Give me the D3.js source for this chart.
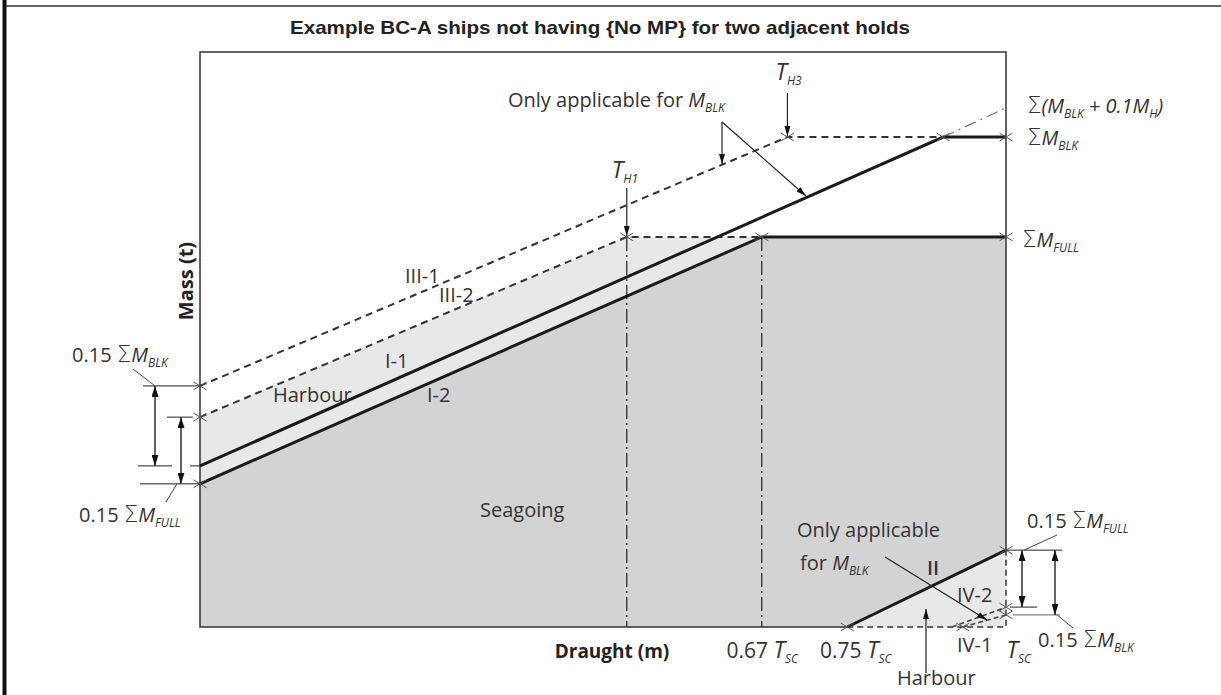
<!DOCTYPE html>
<html>
<head>
<meta charset="utf-8">
<script src="https://cdn.jsdelivr.net/npm/d3@7"></script>
<style>
  html, body { margin: 0; padding: 0; background: #fff; }
  svg { display: block; }
</style>
</head>
<body>
<svg id="chart" width="1221" height="695"></svg>
<script>
// ---- Schematic values: draught as a fraction of T_SC, mass relative to ΣM_FULL ----
const draughtTicks = [0.67, 0.75, 1];
const draughtTickPrefix = ["0.67 ", "0.75 ", ""];

const lineI1   = [[0, 0.413], [0.901, 1.256], [1, 1.256]];   // seagoing, M_BLK
const lineI2   = [[0, 0.367], [0.67, 1.0], [1, 1.0]];        // seagoing, M_FULL
const lineIII1 = [[0, 0.618], [0.694, 1.256], [0.901, 1.256]]; // harbour, M_BLK
const lineIII2 = [[0, 0.538], [0.509, 1.0], [0.67, 1.0]];    // harbour, M_FULL
const lineII   = [[0.75, 0], [1, 0.197]];
const lineIV1  = [[0.932, 0], [1, 0.031]];
const lineIV2  = [[0.915, 0], [1, 0.051]];
const lineExt  = [[0.901, 1.256], [1, 1.331]];              // Σ(M_BLK + 0.1M_H)
const harbourDraughts = [0.509, 0.694];                      // T_H1, T_H3
const massMax = 1.474;

// ---- Layout ----
const W = 1221, H = 695;
const margin = { left: 200, right: 215, top: 52, bottom: 68 };
const plotW = W - margin.left - margin.right;
const plotH = H - margin.top - margin.bottom;
const FONT = "'Open Sans', 'DejaVu Sans', sans-serif";
const TXT = "#333";
const BASE = 20, SUB = 12, SIGMA = 23;

const svg = d3.select("#chart");

// schematic draught axis: not to scale, stretched between the marked stops
const x = d3.scaleLinear()
  .domain([0, 0.67, 0.75, 1])
  .range([0, 0.697, 0.803, 1].map(f => margin.left + f * plotW));
const y = d3.scaleLinear().domain([0, massMax]).range([margin.top + plotH, margin.top]);
const line = d3.line().x(d => x(d[0])).y(d => y(d[1]));

// ---- Page frame ----
svg.append("rect").attr("x", 2.5).attr("y", 0).attr("width", 4).attr("height", H).attr("fill", "#111");
svg.append("line").attr("x1", 6).attr("x2", W).attr("y1", 6).attr("y2", 6)
  .attr("stroke", "#333").attr("stroke-width", 1.5);

// ---- Markers ----
const defs = svg.append("defs");
function marker(id, w, h) {
  defs.append("marker").attr("id", id)
    .attr("viewBox", "0 0 10 10").attr("refX", 10).attr("refY", 5)
    .attr("markerWidth", w).attr("markerHeight", h)
    .attr("markerUnits", "userSpaceOnUse").attr("preserveAspectRatio", "none")
    .attr("orient", "auto-start-reverse")
    .append("path").attr("d", "M0,0 L10,5 L0,10 Z").attr("fill", "#111");
}
marker("head", 10, 6);
marker("dim", 11, 7);

// ---- Filled regions ----
const seagoing = [lineI2[0], lineI2[1], lineI2[2], lineII[1], lineII[0], [0, 0]];
const harbourUpper = [lineIII2[0], lineIII2[1], lineIII2[2], lineI2[0]];
const harbourLower = [lineII[0], lineII[1], [1, 0]];
const area = d3.line().x(d => x(d[0])).y(d => y(d[1])).curve(d3.curveLinearClosed);
svg.append("path").attr("d", area(seagoing)).attr("fill", "#d3d3d3");
svg.append("path").attr("d", area(harbourUpper)).attr("fill", "#e8e8e8");
svg.append("path").attr("d", area(harbourLower)).attr("fill", "#e8e8e8");

// ---- Plot frame (solid, except the dashed harbour corner) ----
const frame = svg.append("g").attr("fill", "none").attr("stroke", "#333").attr("stroke-width", 1.5);
frame.append("path").attr("d", line([[lineII[0][0], 0], [0, 0], [0, massMax], [1, massMax], [1, lineII[1][1]]]));
frame.append("path").attr("d", line([[lineII[0][0], 0], [1, 0], [1, lineII[1][1]]]))
  .attr("stroke-dasharray", "6,4");

// ---- Dash-dot verticals at T_H1 and 0.67 T_SC ----
[harbourDraughts[0], 0.67].forEach(v => {
  svg.append("line").attr("x1", x(v)).attr("x2", x(v)).attr("y1", y(1)).attr("y2", y(0))
    .attr("stroke", "#222").attr("stroke-width", 1.2).attr("stroke-dasharray", "14,4,2,4");
});

// ---- Curves ----
svg.append("path").attr("d", line(lineExt)).attr("fill", "none")
  .attr("stroke", "#777").attr("stroke-width", 1.2).attr("stroke-dasharray", "12,5,2,5");
[lineIII1, lineIII2].forEach(s => svg.append("path").attr("d", line(s)).attr("fill", "none")
  .attr("stroke", "#333").attr("stroke-width", 2).attr("stroke-dasharray", "7,5"));
[lineIV1, lineIV2].forEach(s => svg.append("path").attr("d", line(s)).attr("fill", "none")
  .attr("stroke", "#444").attr("stroke-width", 1.6).attr("stroke-dasharray", "5,3"));
[lineI1, lineI2, lineII].forEach(s => svg.append("path").attr("d", line(s)).attr("fill", "none")
  .attr("stroke", "#1a1a1a").attr("stroke-width", 3));

// ---- Cross marks at defining points ----
const crossPts = [lineIII1[0], lineIII2[0], lineI2[0], lineIII2[1], lineI2[1], lineIII1[1],
  lineI1[1], lineI1[2], lineI2[2], lineII[0], lineII[1], lineIV1[0], lineIV1[1], lineIV2[1]];
crossPts.forEach(p => {
  const cx = x(p[0]), cy = y(p[1]), r = 6.5;
  svg.append("path").attr("d", `M${cx - r},${cy - r * 0.6}L${cx + r},${cy + r * 0.6}M${cx - r},${cy + r * 0.6}L${cx + r},${cy - r * 0.6}`)
    .attr("stroke", "#555").attr("stroke-width", 1).attr("fill", "none");
});

// ---- Annotation helpers ----
function seg(x1, y1, x2, y2, opts = {}) {
  const l = svg.append("line").attr("x1", x1).attr("y1", y1).attr("x2", x2).attr("y2", y2)
    .attr("stroke", opts.color || "#222").attr("stroke-width", opts.w || 1.2);
  if (opts.end) l.attr("marker-end", `url(#${opts.end})`);
  if (opts.start) l.attr("marker-start", `url(#${opts.start})`);
  return l;
}
// parts: plain strings, {t, i} italic, {t, sub} italic subscript, {t, sig} enlarged sigma
function rich(xp, yp, parts, opts = {}) {
  const t = svg.append("text").attr("x", xp).attr("y", yp)
    .attr("font-family", FONT).attr("font-size", opts.size || BASE).attr("fill", opts.fill || TXT)
    .attr("text-anchor", opts.anchor || "start");
  if (opts.weight) t.attr("font-weight", opts.weight);
  let shift = 0;
  parts.forEach(p => {
    const s = typeof p === "string" ? { t: p } : p;
    const ts = t.append("tspan").text(s.t);
    if (s.i) ts.attr("font-style", "italic");
    if (s.size) ts.attr("font-size", s.size);
    if (s.sig) ts.attr("font-size", SIGMA).attr("font-family", "'DejaVu Sans', sans-serif").attr("font-weight", 300);
    if (s.sub) {
      ts.attr("font-style", "italic").attr("font-size", SUB).attr("dy", 5 - shift);
      shift = 5;
    } else if (shift) {
      ts.attr("dy", -shift);
      shift = 0;
    }
  });
  return t;
}
const sig = { t: "Σ", sig: true };

// ---- Left dimensions ----
const xl1 = 155, xl2 = 181;
seg(143, y(lineIII1[0][1]), x(0), y(lineIII1[0][1]), { w: 1 });
seg(138, y(lineI1[0][1]), 172, y(lineI1[0][1]), { w: 1 });
seg(190, y(lineI1[0][1]), x(0), y(lineI1[0][1]), { w: 1 });
seg(167, y(lineIII2[0][1]), 193, y(lineIII2[0][1]), { w: 1 });
seg(140, y(lineI2[0][1]), x(0), y(lineI2[0][1]), { w: 1 });
seg(xl1, y(lineIII1[0][1]), xl1, y(lineI1[0][1]), { w: 1.4, start: "dim", end: "dim" });
seg(xl2, y(lineIII2[0][1]), xl2, y(lineI2[0][1]), { w: 1.4, start: "dim", end: "dim" });
seg(133, 369, xl1, y(lineIII1[0][1]), { w: 1, color: "#444" });
seg(166, 502, 177, y(lineI2[0][1]), { w: 1, color: "#444" });
rich(72, 362, ["0.15 ", sig, { t: "M", i: true }, { t: "BLK", sub: true }]);
rich(79, 522, ["0.15 ", sig, { t: "M", i: true }, { t: "FULL", sub: true }]);

// ---- Right-bottom dimensions ----
const xr1 = 1022, xr2 = 1055;
seg(x(1), y(lineII[1][1]), 1062, y(lineII[1][1]), { w: 1 });
seg(1010, y(lineIV2[1][1]), 1037, y(lineIV2[1][1]), { w: 1 });
seg(1013, y(lineIV1[1][1]), 1060, y(lineIV1[1][1]), { w: 1, color: "#666" });
seg(xr1, y(lineII[1][1]), xr1, y(lineIV2[1][1]), { w: 1.4, start: "dim", end: "dim" });
seg(xr2, y(lineII[1][1]), xr2, y(lineIV1[1][1]), { w: 1.4, start: "dim", end: "dim" });
seg(1057, 535, 1024, y(lineII[1][1]), { w: 1, color: "#444" });
seg(1073, 628, 1057, y(lineIV1[1][1]), { w: 1, color: "#444" });
rich(1027, 528, ["0.15 ", sig, { t: "M", i: true }, { t: "FULL", sub: true }]);
rich(1038, 647, ["0.15 ", sig, { t: "M", i: true }, { t: "BLK", sub: true }]);

// ---- Pointer arrows ----
seg(x(harbourDraughts[0]), 188, x(harbourDraughts[0]), y(1) - 1, { end: "head" });
seg(x(harbourDraughts[1]), 93, x(harbourDraughts[1]), y(lineIII1[1][1]) - 1, { end: "head" });
seg(722, 122, 722, 164, { end: "head" });
seg(722, 122, 806, 196, { end: "head" });
seg(885, 557, 987, 620, { end: "head" });
seg(926, 673, 926, 609, { end: "head" });

// ---- Labels ----
rich(x(harbourDraughts[0]) - 15, 178, [{ t: "T", i: true, size: 23 }, { t: "H1", sub: true }]);
rich(x(harbourDraughts[1]) - 12, 80, [{ t: "T", i: true, size: 23 }, { t: "H3", sub: true }]);
rich(508, 107, ["Only applicable for ", { t: "M", i: true }, { t: "BLK", sub: true }]);
rich(797, 537, ["Only applicable"]);
rich(800, 570, ["for ", { t: "M", i: true }, { t: "BLK", sub: true }]);
rich(1027, y(lineExt[1][1]) + 5, [sig, { t: "(M", i: true }, { t: "BLK", sub: true }, { t: " + 0.1M", i: true }, { t: "H", sub: true }, { t: ")", i: true }]);
rich(1027, y(lineI1[2][1]) + 8, [sig, { t: "M", i: true }, { t: "BLK", sub: true }]);
rich(1022, y(lineI2[2][1]) + 10, [sig, { t: "M", i: true }, { t: "FULL", sub: true }]);
rich(405, 283, ["III-1"], { weight: 500 });
rich(439, 302, ["III-2"], { weight: 500 });
rich(385, 368, ["I-1"], { weight: 500 });
rich(427, 402, ["I-2"], { weight: 500 });
rich(273, 402, ["Harbour"]);
rich(480, 517, ["Seagoing"]);
rich(927, 575, ["II"], { weight: 600 });
rich(957, 602, ["IV-2"], { weight: 500 });
rich(957, 652, ["IV-1"], { weight: 500 });
rich(897, 685, ["Harbour"]);

// ---- Draught axis tick labels ----
const gx = svg.append("g").attr("transform", `translate(0,${y(0)})`)
  .call(d3.axisBottom(x).tickValues(draughtTicks).tickSize(0).tickPadding(16).tickFormat(() => ""));
gx.select(".domain").remove();
gx.selectAll(".tick text").each(function (d, i) {
  const t = d3.select(this).attr("font-family", FONT).attr("font-size", BASE + 1).attr("fill", TXT)
    .attr("text-anchor", i === draughtTicks.length - 1 ? "start" : "middle")
    .attr("dx", i === 1 ? 8 : 0);
  t.append("tspan").text(draughtTickPrefix[i]);
  t.append("tspan").text("T").attr("font-style", "italic").attr("font-size", 23);
  t.append("tspan").text("SC").attr("font-style", "italic").attr("font-size", SUB).attr("dy", 5);
});

// ---- Axis titles and heading ----
svg.append("text").attr("x", 612).attr("y", 658).attr("text-anchor", "middle")
  .attr("font-family", FONT).attr("font-weight", "bold").attr("font-size", 19).attr("fill", "#222")
  .text("Draught (m)");
svg.append("text").attr("transform", "translate(193,281) rotate(-90)").attr("text-anchor", "middle")
  .attr("font-family", FONT).attr("font-weight", "bold").attr("font-size", 20).attr("fill", "#222")
  .text("Mass (t)");
svg.append("text").attr("x", 600).attr("y", 34).attr("text-anchor", "middle")
  .attr("font-family", "'Liberation Sans Narrow', 'Arial Narrow', 'Liberation Sans', sans-serif")
  .attr("font-weight", "bold").attr("font-size", 19).attr("fill", "#222")
  .attr("textLength", 620).attr("lengthAdjust", "spacingAndGlyphs")
  .text("Example BC-A ships not having {No MP} for two adjacent holds");
</script>
</body>
</html>
